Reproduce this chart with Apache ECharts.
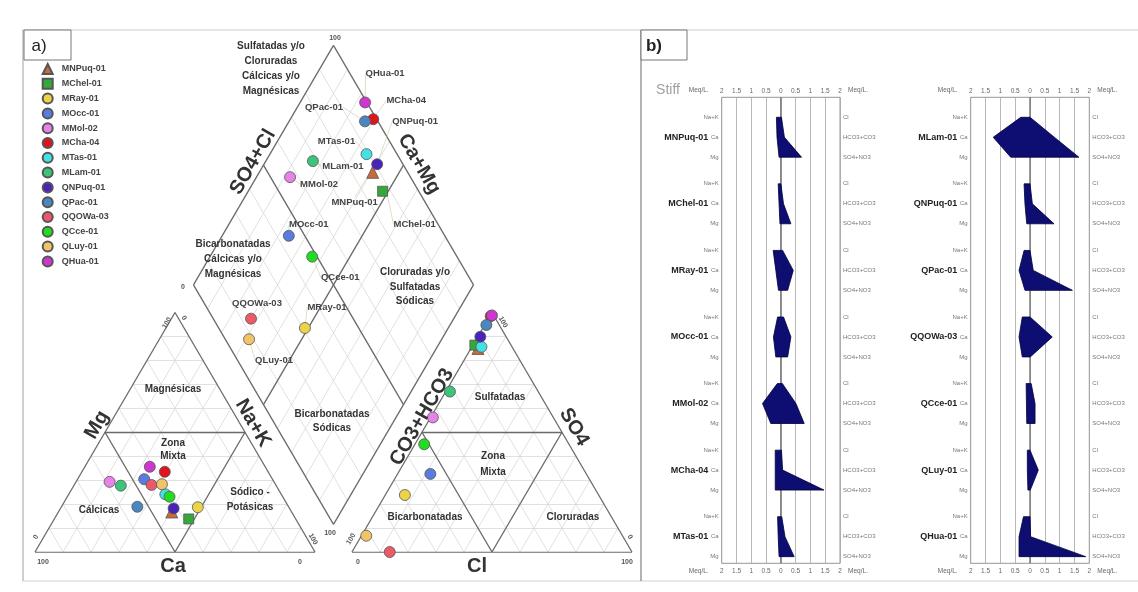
<!DOCTYPE html>
<html><head><meta charset="utf-8">
<script src="https://cdn.jsdelivr.net/npm/echarts@6/dist/echarts.min.js"></script>
<style>html,body{margin:0;padding:0;background:#fff}#c{width:1138px;height:592px}</style>
</head><body><div id="c"></div>
<script>
// ---------------- DATA ----------------
const sampleNames = ['MNPuq-01','MChel-01','MRay-01','MOcc-01','MMol-02','MCha-04','MTas-01','MLam-01','QNPuq-01','QPac-01','QQOWa-03','QCce-01','QLuy-01','QHua-01'];
// Piper percentages (meq %)
const caPct   = [42.8,38.2,32.5,45.8,58.7,36.9,41.4,55.5,41.4,54.0,44.4,40.4,40.5,41.2];
const mgPct   = [16.7,13.8,18.7,30.4,29.3,33.5,24.1,27.7,18.2,18.9,28.0,23.1,28.3,35.6];
const nakPct  = [40.5,48.0,48.8,23.8,12.0,29.6,34.5,16.8,40.4,27.1,27.6,36.5,31.2,23.2];
const hco3Pct = [12.5,12.9,69.2,55.7,43.0,1.2,10.9,31.5,9.2,4.6,86.5,51.7,91.5,0.6];
const so4Pct  = [85.0,86.4,23.8,32.6,56.2,98.5,85.7,67.0,89.9,94.8,0.0,45.0,6.8,98.8];
const clPct   = [2.5,0.7,7.0,11.7,0.8,0.3,3.4,1.5,0.9,0.6,13.5,3.3,1.7,0.6];
// Stiff values (meq/L)
const stiffNaK  = [0.15,0.09,0.26,0.11,0.12,0.19,0.11,0.31,0.20,0.20,0.26,0.13,0.09,0.22];
const stiffCa   = [0.13,0.06,0.17,0.25,0.62,0.19,0.09,1.24,0.17,0.37,0.37,0.12,0.09,0.37];
const stiffMg   = [0.06,0.03,0.08,0.17,0.34,0.19,0.06,0.65,0.11,0.17,0.26,0.11,0.07,0.37];
const stiffCl   = [0.02,0.00,0.06,0.09,0.05,0.02,0.03,0.00,0.00,0.00,0.00,0.04,0.00,0.00];
const stiffHCO3 = [0.12,0.09,0.42,0.34,0.51,0.06,0.14,0.82,0.08,0.11,0.75,0.17,0.28,0.02];
const stiffSO4  = [0.70,0.34,0.23,0.23,0.79,1.46,0.45,1.65,0.81,1.43,0.01,0.17,0.01,1.88];
const meqTicks  = [-2,-1.5,-1,-0.5,0,0.5,1,1.5,2];
const cationRows = ['Na+K','Ca','Mg'];
const anionRows  = ['Cl','HCO3+CO3','SO4+NO3'];

// ---------------- STYLES ----------------
const sampleColors = ['#c86a3a','#35a83a','#ecd44a','#5a7be0','#e583e8','#e0141e','#45e0e6','#3cc47a','#4a23b8','#4a86bf','#ec5a6a','#22dc22','#f2c46a','#cf35cf'];
const sampleSymbols = ['triangle','rect','circle','circle','circle','circle','circle','circle','circle','circle','circle','circle','circle','circle'];
const labelShift = {'QHua-01':[20,-29],'MCha-04':[33,-19],'QNPuq-01':[38,-43],'QPac-01':[-41,-14],'MTas-01':[-30,-13],
  'MLam-01':[30,5],'MMol-02':[29,7],'MNPuq-01':[-18,30],'MChel-01':[32,33],'MOcc-01':[20,-11],'QCce-01':[28,21],
  'QQOWa-03':[6,-15],'MRay-01':[22,-21],'QLuy-01':[25,21]};
const FF = 'Liberation Sans, Arial, sans-serif';

// ---------------- GEOMETRY (Piper units) ----------------
const S = Math.sqrt(3)/2, GAP = 13.2, DY = 10;
const XMAX = 213.2, YMAX = 190, PXU = 2.8, PYU = 2.765, GL = 35, GB = 552;
function cat(ca, mg, nak){ return [nak + mg/2, mg*S]; }
function an(hco3, so4, cl){ return [100 + GAP + cl + so4/2, so4*S]; }
function dia(p, q){ return [100 + GAP/2 + 0.5*(q - p), DY + S*(p + q)]; }

const thin = [], thick = [];
for (let k = 10; k < 100; k += 10) {
  thin.push([cat(100-k,k,0), cat(0,k,100-k)]);
  thin.push([cat(100-k,0,k), cat(0,100-k,k)]);
  thin.push([cat(k,100-k,0), cat(k,0,100-k)]);
  thin.push([an(100-k,k,0), an(0,k,100-k)]);
  thin.push([an(100-k,0,k), an(0,100-k,k)]);
  thin.push([an(k,100-k,0), an(k,0,100-k)]);
  thin.push([dia(k,0), dia(k,100)]);
  thin.push([dia(0,k), dia(100,k)]);
}
function poly(arr, pts){ for (let i=0;i<pts.length-1;i++) arr.push([pts[i],pts[i+1]]); }
poly(thick, [cat(100,0,0), cat(0,0,100), cat(0,100,0), cat(100,0,0)]);
poly(thick, [cat(50,50,0), cat(0,50,50), cat(50,0,50), cat(50,50,0)]);
poly(thick, [an(100,0,0), an(0,0,100), an(0,100,0), an(100,0,0)]);
poly(thick, [an(50,50,0), an(0,50,50), an(50,0,50), an(50,50,0)]);
poly(thick, [dia(0,0), dia(100,0), dia(100,100), dia(0,100), dia(0,0)]);
thick.push([dia(50,0), dia(50,100)]);
thick.push([dia(0,50), dia(100,50)]);

const series = [];
series.push({type:'lines', coordinateSystem:'cartesian2d', xAxisIndex:0, yAxisIndex:0, silent:true, z:1,
  data: thin.map(c => ({coords:c})), lineStyle:{color:'#d4d4d4', width:0.7, opacity:1}});
series.push({type:'lines', coordinateSystem:'cartesian2d', xAxisIndex:0, yAxisIndex:0, silent:true, z:2,
  data: thick.map(c => ({coords:c})), lineStyle:{color:'#6a6a6a', width:1.3, opacity:1}});

sampleNames.forEach((name, i) => {
  const c = cat(caPct[i], mgPct[i], nakPct[i]);
  const a = an(hco3Pct[i], so4Pct[i], clPct[i]);
  const d = dia(caPct[i] + mgPct[i], so4Pct[i] + clPct[i]);
  const sh = labelShift[name];
  series.push({
    type:'scatter', name, xAxisIndex:0, yAxisIndex:0, clip:false, z:5,
    symbol: sampleSymbols[i], symbolSize: sampleSymbols[i]==='triangle' ? 12 : (sampleSymbols[i]==='rect' ? 10 : 11),
    itemStyle:{color: sampleColors[i], borderColor:'#555', borderWidth:0.8, opacity:1},
    emphasis:{disabled:true},
    data:[{value:c},{value:a},{value:d, label:{show:true}}],
    label:{show:false, position:'inside', formatter:'{a}', fontSize:9.5, fontWeight:'bold', color:'#444', fontFamily:FF},
    labelLayout: p => p.dataIndex === 2 ? {dx: sh[0], dy: sh[1]} : {},
    labelLine:{show:true, lineStyle:{color:'#cfc6a6', width:0.6}}
  });
});

// ---------------- STIFF ----------------
const stiffGrids = [{left:721.7, top:97.3, width:118.3, height:466}, {left:970.7, top:97.3, width:118.6, height:466}];
function meqFmt(v){ return String(Math.abs(v)); }
const xAxes = [{gridIndex:0, type:'value', min:0, max:XMAX, show:false}];
const yAxes = [{gridIndex:0, type:'value', min:0, max:YMAX, show:false}];
stiffGrids.forEach((g, gi) => {
  const base = {gridIndex:gi+1, type:'value', min:meqTicks[0], max:meqTicks[meqTicks.length-1], interval:0.5,
    axisLine:{show:false}, axisTick:{show:false}};
  xAxes.push(Object.assign({}, base, {position:'top', axisLabel:{fontSize:6.5, color:'#666', margin:3, formatter:meqFmt, fontFamily:FF},
    splitLine:{show:true, lineStyle:{color:'#a6a6a6', width:0.8}}}));
  xAxes.push(Object.assign({}, base, {position:'bottom', axisLabel:{fontSize:6.5, color:'#666', margin:4, formatter:meqFmt, fontFamily:FF},
    splitLine:{show:false}}));
  const ybase = {gridIndex:gi+1, type:'value', min:0, max:70, interval:1, inverse:true,
    axisLine:{show:false}, axisTick:{show:false}, splitLine:{show:false}};
  yAxes.push(Object.assign({}, ybase, {position:'left', axisLabel:{margin:3, fontSize:6, color:'#777', fontFamily:FF,
    rich:{n:{fontSize:9, fontWeight:'bold', color:'#222', fontFamily:FF, padding:[0,1,0,0]}, r:{fontSize:6, color:'#777', fontFamily:FF}},
    formatter: v => { const r = Math.round(v) % 10, idx = gi*7 + Math.floor(v/10);
      if (r === 3) return cationRows[0];
      if (r === 6) return '{n|' + sampleNames[idx] + '} {r|' + cationRows[1] + '}';
      if (r === 9) return cationRows[2];
      return ''; }}}));
  yAxes.push(Object.assign({}, ybase, {position:'right', axisLabel:{margin:3, fontSize:6, color:'#777', fontFamily:FF,
    formatter: v => { const r = Math.round(v) % 10;
      if (r === 3) return anionRows[0]; if (r === 6) return anionRows[1]; if (r === 9) return anionRows[2]; return ''; }}}));
  const xi = 1 + gi*2, yi = 1 + gi*2;
  series.push({type:'line', xAxisIndex:xi, yAxisIndex:yi, data:[[0,0],[0,70]], symbol:'none', silent:true, z:1,
    lineStyle:{color:'#6a6a6a', width:1.3}});
  const rows = [];
  for (let k = 0; k < 7; k++) {
    const i = gi*7 + k;
    rows.push([k, stiffNaK[i], stiffCa[i], stiffMg[i], stiffCl[i], stiffHCO3[i], stiffSO4[i]]);
  }
  series.push({type:'custom', xAxisIndex:xi, yAxisIndex:yi, silent:true, z:3, data:rows,
    renderItem: (params, api) => {
      const r = api.value(0)*10;
      const pts = [[-api.value(1), r+3], [-api.value(2), r+6], [-api.value(3), r+9],
                   [api.value(6), r+9], [api.value(5), r+6], [api.value(4), r+3]].map(p => api.coord(p));
      return {type:'polygon', shape:{points:pts}, style:{fill:'#0e0e72', stroke:'#00003a', lineWidth:0.8}};
    }});
});

// ---------------- ANNOTATIONS ----------------
const R60 = Math.PI/3;
function T(text, x, y, o){ o = o || {};
  return {type:'text', x, y, rotation:o.rot||0, z:100, silent:true,
    style:{text, fontSize:o.fs||10, fontWeight:o.fw||'bold', fill:o.c||'#333', fontFamily:FF,
      align:'center', verticalAlign:'middle', lineHeight:o.lh||14}}; }
const graphics = [
  {type:'line', z:50, shape:{x1:22,y1:30,x2:1138,y2:30}, style:{stroke:'#dcdcdc', lineWidth:1.5}},
  {type:'line', z:50, shape:{x1:23,y1:30,x2:23,y2:581}, style:{stroke:'#a0a0a0', lineWidth:1}},
  {type:'line', z:50, shape:{x1:22,y1:581,x2:1138,y2:581}, style:{stroke:'#d0d0d0', lineWidth:1}},
  {type:'line', z:50, shape:{x1:641,y1:30,x2:641,y2:581}, style:{stroke:'#808080', lineWidth:1.2}},
  {type:'rect', z:60, shape:{x:24,y:30,width:47,height:30}, style:{fill:'#fff', stroke:'#777', lineWidth:1}},
  {type:'rect', z:60, shape:{x:641,y:30,width:46,height:30}, style:{fill:'#fff', stroke:'#777', lineWidth:1}},
  T('a)', 39, 46, {fs:17, fw:'normal', c:'#222'}),
  T('b)', 654, 46, {fs:17, fw:'bold', c:'#222'}),
  T('Stiff', 668, 90, {fs:14, fw:'normal', c:'#a0a0a0'}),
  // region labels
  T('Sulfatadas y/o\nCloruradas\nCálcicas y/o\nMagnésicas', 271, 69, {lh:15}),
  T('Bicarbonatadas\nCálcicas y/o\nMagnésicas', 233, 259, {lh:15}),
  T('Cloruradas y/o\nSulfatadas\nSódicas', 415, 287, {lh:14.7}),
  T('Bicarbonatadas\nSódicas', 332, 421, {lh:14.3}),
  T('Magnésicas', 173, 389),
  T('Zona\nMixta', 173, 450, {lh:13.4}),
  T('Cálcicas', 99, 510),
  T('Sódico -\nPotásicas', 250, 500, {lh:14.6}),
  T('Sulfatadas', 500, 397),
  T('Zona\nMixta', 493, 464, {lh:15.7}),
  T('Bicarbonatadas', 425, 517),
  T('Cloruradas', 573, 517),
  // axis titles
  T('Mg', 97, 425, {fs:20, rot:R60}),
  T('Na+K', 253, 423, {fs:20, rot:-R60}),
  T('Ca', 173, 566, {fs:20}),
  T('CO3+HCO3', 422, 417, {fs:20, rot:R60}),
  T('SO4', 574, 427, {fs:20, rot:-R60}),
  T('Cl', 477, 566, {fs:20}),
  T('SO4+Cl', 253, 162, {fs:20, rot:R60}),
  T('Ca+Mg', 419, 164, {fs:20, rot:-R60}),
  // tick numbers
  T('100', 43, 562, {fs:7, c:'#555'}), T('0', 300, 562, {fs:7, c:'#555'}),
  T('0', 36, 537, {fs:7, c:'#555', rot:R60}), T('100', 167, 323, {fs:7, c:'#555', rot:R60}),
  T('0', 184, 318, {fs:7, c:'#555', rot:-R60}), T('100', 313, 539, {fs:7, c:'#555', rot:-R60}),
  T('0', 358, 562, {fs:7, c:'#555'}), T('100', 627, 562, {fs:7, c:'#555'}),
  T('100', 351, 539, {fs:7, c:'#555', rot:R60}), T('100', 503, 322, {fs:7, c:'#555', rot:-R60}),
  T('0', 630, 537, {fs:7, c:'#555', rot:-R60}),
  T('100', 335, 38, {fs:7, c:'#555'}), T('0', 183, 287, {fs:7, c:'#555'}), T('100', 330, 533, {fs:7, c:'#555'})
];
stiffGrids.forEach(g => {
  const o = {fs:6.5, fw:'normal', c:'#666'};
  graphics.push(T('Meq/L.', g.left - 23, g.top - 6.6, o));
  graphics.push(T('Meq/L.', g.left + g.width + 18, g.top - 6.6, o));
  graphics.push(T('Meq/L.', g.left - 23, g.top + g.height + 8.4, o));
  graphics.push(T('Meq/L.', g.left + g.width + 18, g.top + g.height + 8.4, o));
});

const chart = echarts.init(document.getElementById('c'), null, {renderer:'canvas'});
chart.setOption({
  animation:false,
  backgroundColor:'#fff',
  grid:[
    {left:GL, top:GB - YMAX*PYU, width:XMAX*PXU, height:YMAX*PYU, outerBoundsMode:'none'},
    Object.assign({show:true, borderColor:'#8a8a8a', borderWidth:0.9, outerBoundsMode:'none'}, stiffGrids[0]),
    Object.assign({show:true, borderColor:'#8a8a8a', borderWidth:0.9, outerBoundsMode:'none'}, stiffGrids[1])
  ],
  xAxis: xAxes, yAxis: yAxes,
  legend:{data:sampleNames, orient:'vertical', left:41.7, top:63, itemWidth:10, itemHeight:10, itemGap:2.8, padding:0,
    selectedMode:false, textStyle:{fontSize:9, fontWeight:'bold', color:'#444', fontFamily:FF, padding:[0,0,0,4]}},
  series,
  graphic:{elements:graphics}
});
</script></body></html>
